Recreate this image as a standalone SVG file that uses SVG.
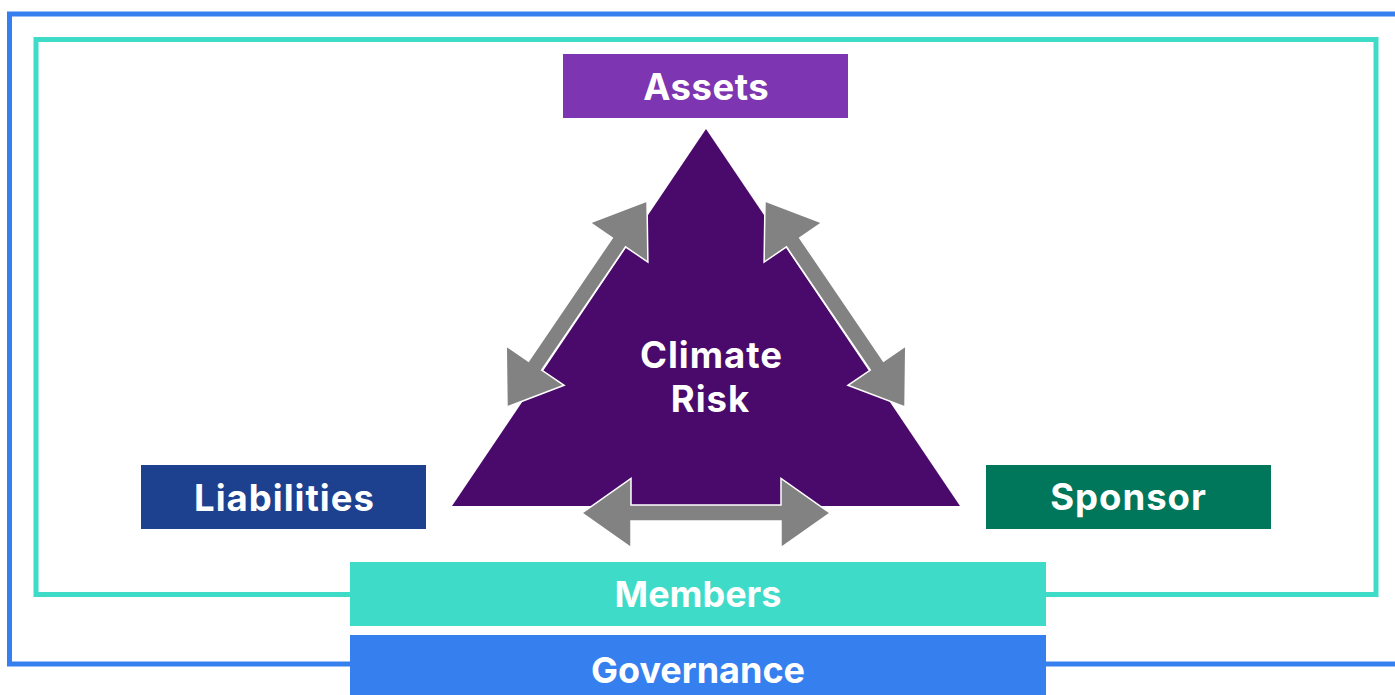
<svg xmlns="http://www.w3.org/2000/svg" width="1395" height="695" viewBox="0 0 1395 695">
<style>
.lbl{font-family:Inter,"Noto Sans","Liberation Sans",sans-serif;font-weight:700;font-size:36.5px;letter-spacing:1px;fill:#ffffff;text-anchor:middle}
.tight{font-size:36px;letter-spacing:0}
.frame{fill:none;stroke-width:5}
.arrow{fill:#828282;stroke:#ffffff;stroke-width:1.5;stroke-linejoin:miter}
</style>
<rect width="1395" height="695" fill="#ffffff"/>
<g id="frames">
<rect class="frame" x="9.5" y="14" width="1400" height="650" stroke="#3580EE"/>
<rect class="frame" x="36" y="39.5" width="1340" height="555" stroke="#3EDBC9"/>
</g>
<g id="climate-risk">
<polygon points="706,129 452,506 960,506" fill="#4A0A6B"/>
<text class="lbl" x="711.5" y="368">Climate</text>
<text class="lbl" x="710.5" y="412">Risk</text>
</g>
<g id="connectors">
<polygon class="arrow" points="647,201 647.9,262 625.5,246.9 541.7,370.1 564.1,385.3 507,407 506.2,346 528.5,361.1 612.3,237.9 590,222.7"/>
<polygon class="arrow" points="765,201 764.1,262 786.5,246.9 870.3,370.1 847.9,385.3 905,407 905.8,346 883.5,361.1 799.7,237.9 822,222.7"/>
<polygon class="arrow" points="582,513 631,478.5 631,505 781,505 781,478.5 830,513 781,547.5 781,521 631,521 631,547.5"/>
</g>
<g id="assets">
<rect x="563" y="54" width="285" height="64" fill="#7E35B1"/>
<text class="lbl" x="706.3" y="100" style="letter-spacing:0.5px">Assets</text>
</g>
<g id="liabilities">
<rect x="141" y="465" width="285" height="64" fill="#1D418F"/>
<text class="lbl" x="284.5" y="511">Liabilities</text>
</g>
<g id="sponsor">
<rect x="986" y="465" width="285" height="64" fill="#00775B"/>
<text class="lbl" x="1128.5" y="510">Sponsor</text>
</g>
<g id="members">
<rect x="350" y="562" width="696" height="64" fill="#3EDBC9"/>
<text class="lbl tight" x="698" y="607">Members</text>
</g>
<g id="governance">
<rect x="350" y="635" width="696" height="60" fill="#3580EE"/>
<text class="lbl tight" x="698" y="683">Governance</text>
</g>
</svg>
